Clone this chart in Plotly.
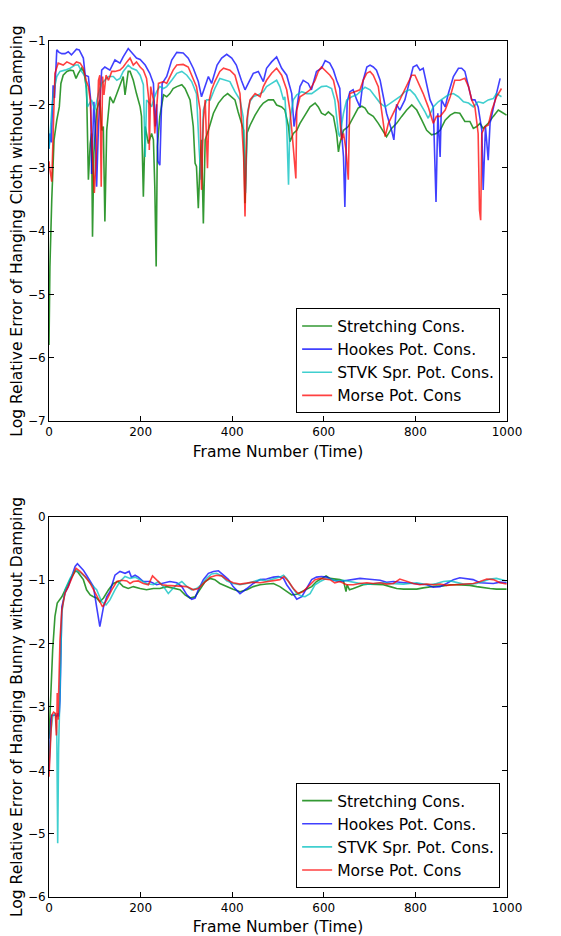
import plotly.graph_objects as go

# ---------------- data (frame, log relative error) ----------------
series_names = ["Stretching Cons.", "Hookes Pot. Cons.", "STVK Spr. Pot. Cons.", "Morse Pot. Cons"]
series_colors = ["rgba(0,128,0,0.8)", "rgba(0,0,255,0.75)", "rgba(0,191,191,0.75)", "rgba(255,0,0,0.75)"]

x_ticks = [0, 200, 400, 600, 800, 1000]
cloth_y_ticks = [-7, -6, -5, -4, -3, -2, -1]
bunny_y_ticks = [-6, -5, -4, -3, -2, -1, 0]

cloth_stretching = [(0,-5.8),(2,-4.56),(6,-3.51),(8,-2.98),(11,-2.56),(17,-2.25),(22.5,-2.04),(26,-1.67),(31,-1.54),(39,-1.48),(46,-1.46),(53,-1.47),(59,-1.59),(64,-1.51),(71,-1.43),(76,-1.48),(82,-1.75),(86,-3.19),(90,-2.62),(93,-2.46),(95,-4.09),(98,-2.77),(104,-2.09),(111,-1.93),(115,-2.41),(118.6,-2.35),(122,-3.85),(126,-2.41),(133,-1.88),(140.5,-1.98),(148,-1.83),(155,-1.69),(162,-1.56),(166,-1.85),(170,-1.62),(173,-1.48),(177,-1.48),(184,-1.62),(191,-1.83),(199,-2.04),(202,-2.19),(206,-3.46),(210,-2.35),(217,-2.62),(224,-2.46),(228,-2.56),(231,-3.3),(234,-4.56),(236.5,-2.67),(242,-2.19),(250,-1.85),(257,-1.88),(264,-1.83),(271,-1.75),(279,-1.72),(290,-1.69),(297,-1.75),(308,-1.93),(315,-2.35),(319,-2.93),(322,-2.98),(326,-3.64),(330,-2.88),(333,-2.56),(337,-3.88),(341,-2.56),(348,-2.41),(359,-2.14),(370,-1.98),(381,-1.88),(390,-1.83),(399,-1.88),(406,-1.93),(413,-2.12),(420,-2.3),(425,-2.41),(428,-3.56),(432,-2.46),(439,-2.33),(450,-2.17),(461,-2.04),(468,-1.98),(479,-1.93),(490,-1.93),(497,-2.01),(508,-2.04),(515,-2.09),(523,-2.35),(526,-2.59),(533.5,-2.46),(541,-2.41),(548,-2.3),(559,-2.17),(570,-2.04),(581,-1.98),(588,-2.04),(595,-2.14),(603,-2.17),(610,-2.12),(621,-2.19),(628,-2.46),(632,-2.75),(635,-2.62),(643,-2.41),(653.5,-2.35),(664.5,-2.19),(675,-2.06),(683,-2.03),(690,-2.06),(697,-2.14),(708,-2.19),(719,-2.3),(730,-2.43),(737,-2.51),(748,-2.38),(759,-2.3),(770,-2.19),(781,-2.09),(792,-2.01),(803,-2.09),(814,-2.25),(824.6,-2.41),(835.5,-2.48),(846,-2.46),(854,-2.41),(865,-2.25),(876,-2.17),(886,-2.13),(897,-2.14),(908,-2.27),(919,-2.27),(926.5,-2.38),(934,-2.35),(941,-2.3),(948,-2.38),(959,-2.3),(970,-2.19),(981,-2.09),(988,-2.12),(999,-2.17)]

cloth_hookes = [(0,-2.7),(2,-2.46),(5,-2.6),(9,-1.7),(12,-1.9),(17,-1.14),(22,-1.18),(28,-1.2),(35,-1.2),(42,-1.17),(49,-1.22),(55,-1.17),(60,-1.13),(66,-1.14),(71,-1.2),(75,-1.27),(79,-1.54),(86,-1.56),(91,-1.93),(93,-3.1),(98,-1.96),(101,-2.4),(104,-3.3),(108,-2.35),(115,-1.46),(122,-1.41),(133,-1.46),(144,-1.3),(155,-1.35),(162,-1.25),(173,-1.12),(184,-1.22),(191,-1.27),(199,-1.29),(210,-1.38),(220,-1.51),(228,-1.67),(232,-2.35),(235,-2.0),(238,-2.9),(242,-2.96),(247,-1.67),(257,-1.56),(268,-1.3),(279,-1.18),(293,-1.19),(304,-1.27),(315,-1.43),(326,-1.64),(333,-1.88),(341,-1.69),(348,-1.56),(355,-1.67),(367,-1.38),(377,-1.27),(388,-1.21),(399,-1.27),(409,-1.38),(420,-1.62),(428,-1.77),(435,-1.67),(446,-1.51),(457,-1.48),(468,-1.64),(475,-1.43),(486,-1.33),(497,-1.25),(508,-1.43),(519,-1.54),(530,-1.83),(535,-2.35),(541,-2.09),(548,-1.72),(555,-1.62),(566,-1.67),(573,-1.77),(584,-1.48),(595,-1.43),(603,-1.31),(613,-1.35),(621,-1.46),(628,-1.62),(635,-1.75),(639,-2.46),(643,-2.83),(646,-3.62),(651,-1.96),(657,-1.8),(664,-1.77),(672,-1.93),(679,-2.04),(686,-1.62),(694,-1.41),(701,-1.38),(708,-1.41),(715,-1.46),(723,-1.62),(730,-1.88),(737,-2.14),(748,-2.41),(753,-2.56),(759,-2.0),(766,-2.09),(777,-1.93),(788,-1.62),(795,-1.41),(803,-1.38),(810,-1.46),(817,-1.43),(825,-1.67),(832,-1.93),(839,-2.04),(845,-3.54),(849,-2.14),(854,-2.83),(857,-1.93),(865,-2.04),(872,-1.83),(883,-1.56),(894,-1.43),(901,-1.43),(908,-1.48),(916,-1.72),(923,-1.93),(930,-1.93),(937,-2.04),(945,-2.41),(948,-3.35),(953,-2.35),(959,-2.88),(963,-2.3),(970,-2.04),(977,-1.83),(985,-1.59)]

cloth_stvk = [(0,-2.7),(1,-2.62),(6,-2.09),(9.5,-1.83),(17,-1.56),(24,-1.48),(35,-1.46),(46,-1.43),(57,-1.38),(64,-1.38),(71,-1.48),(79,-1.56),(84,-2.04),(88,-1.98),(93,-1.93),(100,-2.09),(108,-1.83),(115,-1.67),(122,-1.62),(130,-1.56),(140.5,-1.56),(148,-1.62),(155,-1.59),(162,-1.48),(173,-1.38),(180.5,-1.43),(191,-1.46),(199,-1.54),(206,-1.69),(210,-2.83),(213,-1.93),(219,-1.98),(224,-2.04),(229,-1.91),(235,-1.8),(242,-1.72),(250,-1.75),(257,-1.72),(268,-1.62),(279,-1.51),(290,-1.48),(301,-1.54),(311.5,-1.64),(322,-1.83),(328,-2.72),(332,-3.19),(337,-2.09),(344,-1.93),(352,-1.93),(362,-1.75),(373,-1.59),(384,-1.62),(395,-1.64),(406,-1.8),(417,-1.93),(424,-2.2),(429,-3.4),(434,-2.1),(439,-1.95),(446,-1.88),(457,-1.85),(468,-1.8),(475,-1.72),(486,-1.67),(497,-1.62),(504,-1.72),(512,-1.93),(515,-1.88),(519,-2.35),(523,-3.27),(526,-2.25),(533.5,-1.93),(541,-1.85),(552,-1.8),(563,-1.83),(573.5,-1.83),(584,-1.77),(595,-1.72),(606,-1.71),(617,-1.75),(624,-1.93),(632,-2.46),(635,-2.51),(643,-2.14),(650,-1.93),(661,-1.88),(672,-1.85),(683,-1.77),(690,-1.73),(701,-1.77),(712,-1.88),(723,-1.98),(734,-2.04),(745,-1.98),(755,-1.93),(766,-1.88),(777,-1.8),(788,-1.77),(799,-1.85),(810,-1.98),(821,-2.12),(828,-2.22),(839,-2.04),(850,-1.96),(861,-1.91),(872,-1.85),(883,-1.83),(894,-1.88),(905,-1.96),(916,-1.98),(926.5,-2.04),(937,-1.96),(948,-1.98),(959,-1.93),(970,-1.91),(977,-1.83),(988,-1.88)]

cloth_morse = [(0,-2.9),(1,-2.98),(6,-3.22),(9.5,-2.19),(13,-1.51),(20,-1.35),(31,-1.38),(39,-1.33),(46,-1.35),(53,-1.38),(60,-1.33),(68,-1.35),(75,-1.43),(81,-1.62),(86,-1.72),(90,-1.93),(95,-2.83),(99,-3.4),(104,-2.67),(108,-1.62),(111,-1.54),(114,-3.3),(117,-1.56),(120,-1.85),(124.5,-1.54),(130,-1.62),(137,-1.48),(144,-1.48),(155,-1.46),(162,-1.41),(170,-1.33),(177,-1.27),(184,-1.38),(191,-1.33),(199,-1.41),(206,-1.46),(213,-1.59),(218,-1.93),(219,-2.72),(222,-1.72),(228,-1.93),(231,-2.46),(239,-1.67),(250,-1.64),(257,-1.67),(264,-1.56),(271,-1.46),(279,-1.38),(293,-1.37),(304,-1.41),(311.5,-1.54),(322,-1.72),(330,-2.09),(333,-3.35),(337,-2.25),(341,-1.93),(346,-3.01),(350,-1.93),(355,-1.77),(362,-1.64),(373,-1.48),(381,-1.43),(395,-1.46),(406,-1.54),(417,-1.83),(425,-2.83),(428,-3.77),(432,-2.25),(439,-1.93),(450,-1.83),(461,-1.88),(468,-1.72),(475,-1.62),(486,-1.51),(497,-1.43),(508,-1.54),(519,-1.77),(526,-2.09),(532,-2.56),(535,-2.85),(539,-3.17),(541,-2.09),(548,-1.88),(559,-1.83),(570,-1.77),(581,-1.62),(588,-1.48),(595,-1.41),(603,-1.46),(613.5,-1.54),(621,-1.62),(632,-1.98),(639,-2.56),(643,-2.46),(648.5,-2.72),(653.5,-3.19),(657,-1.83),(668,-1.8),(679,-1.77),(686,-1.62),(693.6,-1.51),(701,-1.48),(708,-1.54),(719,-1.72),(726,-2.09),(734,-2.51),(741,-2.3),(752,-2.14),(766,-1.93),(781,-1.72),(792,-1.54),(799,-1.54),(810,-1.72),(817,-1.83),(828,-2.04),(839,-2.3),(846,-2.19),(854,-2.19),(865,-2.09),(876,-1.88),(886,-1.62),(897,-1.62),(908,-1.59),(916,-1.72),(923,-1.93),(930,-2.04),(937,-2.46),(940,-3.67),(942.5,-3.83),(945,-2.46),(952,-2.35),(959,-2.33),(967,-2.09),(977,-1.88),(988,-1.75)]

bunny_stretching = [(0,-3.5),(3.6,-2.73),(8,-2.1),(13,-1.57),(18,-1.36),(28,-1.26),(35,-1.15),(46,-0.99),(57,-0.86),(62,-0.86),(68,-0.92),(75,-0.99),(82,-1.15),(90,-1.23),(97,-1.26),(104,-1.28),(111,-1.34),(119,-1.28),(130,-1.15),(140.5,-1.05),(151,-1.02),(162,-1.1),(173,-1.13),(184,-1.1),(199,-1.13),(213,-1.15),(228,-1.13),(242,-1.13),(257,-1.1),(271,-1.13),(286,-1.15),(297,-1.23),(308,-1.28),(319,-1.26),(330,-1.13),(341,-1.02),(352,-0.97),(362,-0.99),(373,-1.05),(388,-1.1),(402,-1.14),(417,-1.18),(432,-1.15),(446,-1.1),(461,-1.07),(475,-1.06),(490,-1.05),(504,-1.1),(519,-1.18),(530,-1.23),(541,-1.22),(552,-1.18),(563,-1.15),(573.5,-1.1),(584,-1.02),(595,-0.97),(605,-0.93),(613.5,-0.97),(624,-0.98),(635,-0.99),(643,-1.01),(648.5,-1.18),(651,-1.07),(656,-1.15),(664.5,-1.13),(675,-1.1),(686,-1.07),(701,-1.06),(715,-1.06),(730,-1.07),(745,-1.1),(759,-1.13),(774,-1.14),(788,-1.14),(803,-1.14),(817,-1.12),(832,-1.1),(846,-1.09),(861,-1.09),(876,-1.07),(890,-1.07),(905,-1.07),(919,-1.08),(934,-1.1),(948,-1.12),(963,-1.13),(977,-1.14),(992,-1.14),(999,-1.14)]

bunny_hookes = [(0,-4.0),(4,-3.2),(6,-3.13),(13,-3.13),(17,-3.15),(20,-3.1),(22,-3.15),(24,-2.9),(28,-1.42),(35,-1.2),(42,-1.1),(49.5,-0.94),(57,-0.78),(62,-0.74),(68,-0.78),(75,-0.84),(82,-0.92),(90,-1.02),(97,-1.1),(104,-1.42),(111,-1.73),(119,-1.42),(126,-1.26),(133,-1.18),(144,-0.92),(155,-0.86),(166,-0.89),(175,-0.86),(180,-0.95),(188,-0.92),(195,-0.95),(206,-1.02),(220,-1.02),(235,-1.07),(250,-1.04),(264,-1.02),(279,-1.04),(290,-1.1),(301,-1.23),(311.5,-1.3),(319,-1.28),(326,-1.15),(337,-0.99),(348,-0.89),(359,-0.86),(370,-0.85),(381,-0.92),(392,-0.99),(402,-1.1),(417,-1.21),(432,-1.13),(446,-1.05),(461,-0.99),(475,-0.98),(490,-0.95),(501,-0.94),(512,-0.97),(519,-1.07),(530,-1.18),(541,-1.3),(552,-1.26),(563,-1.13),(573.5,-0.99),(584,-0.95),(595,-0.94),(606,-0.95),(621,-1.0),(635,-1.02),(650,-1.0),(664.5,-0.98),(679,-0.97),(694,-0.98),(708,-0.99),(723,-1.0),(737,-1.03),(752,-1.02),(766,-1.03),(781,-1.04),(795,-1.05),(810,-1.06),(825,-1.07),(839,-1.11),(854,-1.1),(868,-1.05),(883,-0.99),(897,-0.96),(912,-0.97),(926,-0.99),(941,-1.04),(956,-1.05),(970,-1.05),(985,-1.03),(999,-1.04)]

bunny_stvk = [(0,-3.9),(4,-3.4),(8,-3.15),(14,-3.1),(17,-3.4),(19,-5.15),(21,-3.65),(23,-2.9),(26,-2.0),(28,-1.52),(35,-1.15),(46,-0.97),(57,-0.84),(64,-0.86),(71,-0.89),(82,-0.97),(93,-1.07),(104,-1.15),(115,-1.34),(124.5,-1.39),(133,-1.31),(144,-1.15),(155,-1.02),(166,-0.94),(177,-0.97),(188,-0.95),(199,-0.99),(213,-1.05),(228,-1.07),(239,-1.02),(250,-1.1),(260.5,-1.21),(268,-1.15),(279,-1.07),(290,-1.02),(301,-1.1),(311.5,-1.15),(322,-1.13),(333,-1.07),(344,-0.97),(355,-0.9),(366,-0.89),(377,-0.93),(388,-1.01),(402,-1.05),(417,-1.07),(432,-1.05),(446,-1.02),(461,-0.99),(475,-1.01),(490,-0.98),(504,-0.95),(512,-0.92),(519,-0.97),(530,-1.1),(541,-1.21),(552,-1.25),(559,-1.26),(570,-1.21),(581,-1.07),(592,-1.02),(603,-0.98),(613.5,-0.98),(628,-1.01),(643,-1.0),(657,-1.02),(672,-1.05),(686,-1.06),(701,-1.06),(715,-1.05),(730,-1.04),(745,-1.05),(759,-1.06),(774,-1.06),(788,-1.05),(803,-1.04),(817,-1.06),(832,-1.07),(846,-1.05),(861,-1.02),(876,-1.01),(890,-1.04),(905,-1.06),(919,-1.06),(934,-1.05),(948,-1.02),(963,-0.98),(977,-0.97),(992,-1.0),(999,-1.01)]

bunny_morse = [(0,-4.1),(3,-3.5),(6,-3.13),(10,-3.08),(14,-3.1),(16,-3.45),(17,-3.3),(18,-2.78),(20,-3.2),(21,-2.8),(24,-1.94),(28,-1.47),(35,-1.2),(42,-1.1),(49.5,-0.97),(59,-0.81),(68,-0.86),(79,-0.94),(90,-1.05),(100,-1.18),(111,-1.34),(117,-1.42),(126,-1.31),(137,-1.15),(148,-1.02),(159,-1.0),(170,-1.01),(177,-1.05),(184,-1.02),(195,-1.01),(206,-1.05),(217,-1.07),(226,-0.93),(235,-0.99),(246,-1.07),(257,-1.08),(271,-1.09),(286,-1.09),(301,-1.1),(315,-1.15),(326,-1.13),(337,-1.05),(352,-0.95),(366,-0.92),(377,-0.93),(388,-0.99),(402,-1.04),(417,-1.06),(432,-1.05),(446,-1.03),(461,-1.04),(475,-1.02),(490,-1.01),(504,-0.99),(513,-0.94),(523,-1.02),(533.5,-1.13),(544,-1.21),(555,-1.18),(566,-1.1),(581,-0.99),(592,-0.97),(603,-0.98),(613.5,-0.99),(624,-1.04),(635,-1.02),(650,-1.07),(664.5,-1.07),(679,-1.05),(694,-1.04),(708,-1.05),(723,-1.04),(737,-1.06),(752,-1.05),(766,-0.98),(781,-1.02),(795.5,-1.05),(810,-1.07),(825,-1.06),(839,-1.07),(854,-1.06),(868,-1.08),(883,-1.07),(897,-1.06),(912,-1.05),(926.5,-1.05),(941,-1.02),(956,-0.98),(970,-0.99),(985,-1.04),(999,-1.06)]

cloth_series = [cloth_stretching, cloth_hookes, cloth_stvk, cloth_morse]
bunny_series = [bunny_stretching, bunny_hookes, bunny_stvk, bunny_morse]

# ---------------- figure ----------------
FONT = "DejaVu Sans"
fig = go.Figure()

for name, color, pts in zip(series_names, series_colors, cloth_series):
    fig.add_trace(go.Scatter(
        x=[p[0] for p in pts], y=[p[1] for p in pts], mode="lines", name=name,
        line=dict(color=color, width=1.6), xaxis="x", yaxis="y", legend="legend"))

for name, color, pts in zip(series_names, series_colors, bunny_series):
    fig.add_trace(go.Scatter(
        x=[p[0] for p in pts], y=[p[1] for p in pts], mode="lines", name=name,
        line=dict(color=color, width=1.6), xaxis="x2", yaxis="y2", legend="legend2"))

axis_common = dict(showline=True, linecolor="black", linewidth=1, mirror="ticks",
                   ticks="inside", ticklen=5, tickcolor="black", tickwidth=1,
                   showgrid=False, zeroline=False, automargin=False,
                   tickfont=dict(family=FONT, size=12, color="black"))

TITLE_SIZE = 15.5
# page body adds an 8px offset, so the figure is 8px smaller than the window
fig.update_layout(
    width=553, height=928,
    paper_bgcolor="white", plot_bgcolor="white",
    margin=dict(l=41, r=54, t=33, b=39, autoexpand=False),
    font=dict(family=FONT, color="black"),
    xaxis=dict(domain=[0, 1], range=[0, 1000], tickvals=x_ticks, anchor="y",
               title=dict(text="Frame Number (Time)", font=dict(size=TITLE_SIZE), standoff=7),
               **axis_common),
    yaxis=dict(domain=[0.556, 1.0], range=[-7, -1], tickvals=cloth_y_ticks, anchor="x",
               title=dict(text="Log Relative Error of Hanging Cloth without Damping",
                          font=dict(size=TITLE_SIZE), standoff=6),
               **axis_common),
    xaxis2=dict(domain=[0, 1], range=[0, 1000], tickvals=x_ticks, anchor="y2",
                title=dict(text="Frame Number (Time)", font=dict(size=TITLE_SIZE), standoff=7),
                **axis_common),
    yaxis2=dict(domain=[0.0, 0.444], range=[-6, 0], tickvals=bunny_y_ticks, anchor="x2",
                title=dict(text="Log Relative Error of Hanging Bunny without Damping",
                           font=dict(size=TITLE_SIZE), standoff=6),
                **axis_common),
    legend=dict(x=0.985, y=0.565, xanchor="right", yanchor="bottom",
                bordercolor="black", borderwidth=1, bgcolor="white",
                font=dict(family=FONT, size=15.5, color="black"), tracegroupgap=0),
    legend2=dict(x=0.985, y=0.0105, xanchor="right", yanchor="bottom",
                 bordercolor="black", borderwidth=1, bgcolor="white",
                 font=dict(family=FONT, size=15.5, color="black"), tracegroupgap=0),
)

fig.write_html("out.html")
